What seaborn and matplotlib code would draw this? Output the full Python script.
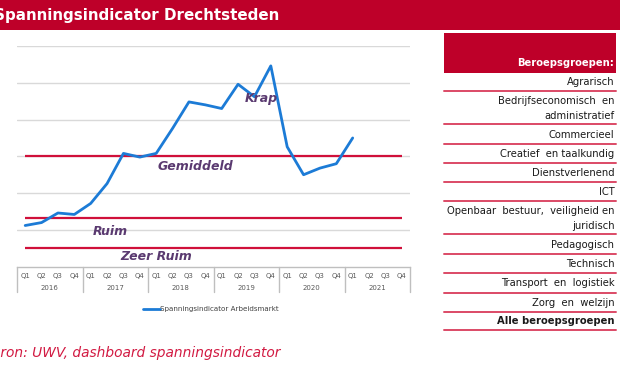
import matplotlib
matplotlib.use("Agg")
import matplotlib.pyplot as plt
import seaborn as sns
import pandas as pd
import numpy as np
from matplotlib.lines import Line2D
from matplotlib.patches import Rectangle

sns.set_theme(style="white")
plt.rcParams['font.family'] = ['DejaVu Sans']

# ---------------- data ----------------
years = ["2016", "2017", "2018", "2019", "2020", "2021"]
quarters = ["Q1", "Q2", "Q3", "Q4"]
spanning = [0.56, 0.60, 0.73, 0.71, 0.86, 1.13, 1.54, 1.49, 1.54, 1.88,
            2.24, 2.20, 2.15, 2.48, 2.31, 2.73, 1.63, 1.25, 1.34, 1.40, 1.75]
levels = [1.5, 0.667, 0.25]
level_names = ["Gemiddeld", "Ruim", "Zeer Ruim", "Krap"]
series_name = "Spanningsindicator Arbeidsmarkt"
title = "Spanningsindicator Drechtsteden"
source = "Bron: UWV, dashboard spanningsindicator"
panel_header = "Beroepsgroepen:"
groups = ["Agrarisch", "Bedrijfseconomisch  en\nadministratief", "Commercieel",
          "Creatief  en taalkundig", "Dienstverlenend", "ICT",
          "Openbaar  bestuur,  veiligheid en\njuridisch", "Pedagogisch", "Technisch",
          "Transport  en  logistiek", "Zorg  en  welzijn", "Alle beroepsgroepen"]

W, H = 620, 365
RED = "#BE0029"
def fx(x): return x / W
def fy(y): return 1 - y / H

fig = plt.figure(figsize=(W / 100, H / 100), dpi=100)
fig.patch.set_facecolor("white")

# title bar
fig.add_artist(Rectangle((0, fy(29.5)), 1, 29.5 / H, transform=fig.transFigure,
                         facecolor=RED, edgecolor="none", zorder=0))
fig.text(fx(-6), fy(15.5), title, color="white", fontsize=10.9, fontweight="bold",
         ha="left", va="center")

# ---------------- chart ----------------
ax = fig.add_axes([fx(17), fy(266.7), (410 - 17) / W, (266.7 - 46) / H])
n_q = len(years) * len(quarters)
df = pd.DataFrame({"idx": np.arange(len(spanning)), "value": spanning})
ax.set_xlim(-0.5, n_q - 0.5)
ax.set_ylim(0, 3.0)
ax.set_yticks(np.arange(0.5, 3.01, 0.5))
ax.yaxis.grid(True, color="#D9D9D9", lw=1.0)
ax.set_axisbelow(True)
ax.tick_params(axis="y", left=False, labelleft=False)
for s in ["top", "right", "left"]:
    ax.spines[s].set_visible(False)
ax.spines["bottom"].set_color("#BFBFBF")
ax.spines["bottom"].set_linewidth(1.0)

for lv in levels:
    ax.hlines(lv, 0, n_q - 1, color="#D0103A", lw=1.6, zorder=2)

sns.lineplot(data=df, x="idx", y="value", ax=ax, color="#1C7BD6", lw=2.0,
             zorder=3, label=series_name, legend=False)

lab_kw = dict(color="#5A3A70", fontsize=9, fontweight="bold", style="italic",
              ha="left", va="center", zorder=4)
ax.text(8.1, 1.36, level_names[0], **lab_kw)
ax.text(4.1, 0.485, level_names[1], **lab_kw)
ax.text(5.8, 0.136, level_names[2], **lab_kw)
ax.text(13.4, 2.28, level_names[3], **lab_kw)

# category axis (quarters + years)
ax.set_xticks([])
ax.set_xlabel("")
ax.set_ylabel("")
ph = 266.7 - 46
box_h = (292.3 - 266.7) / ph
for b in np.arange(-0.5, n_q, 4):
    ax.plot([b, b], [0, -box_h], transform=ax.get_xaxis_transform(),
            color="#BFBFBF", lw=1.0, clip_on=False)
q_y = -(275.7 - 266.7) / ph
yr_y = -(288 - 266.7) / ph
for k, yr in enumerate(years):
    for j, q in enumerate(quarters):
        ax.text(4 * k + j, q_y, q, transform=ax.get_xaxis_transform(),
                fontsize=5, color="#595959", ha="center", va="center")
    ax.text(4 * k + 1.5, yr_y, yr, transform=ax.get_xaxis_transform(),
            fontsize=5, color="#595959", ha="center", va="center")

# legend
handle = Line2D([0], [0], color="#1C7BD6", lw=2.0)
fig.legend([handle], [series_name], loc="center left",
           bbox_to_anchor=(fx(139), fy(309.3)), frameon=False, fontsize=5.1,
           handlelength=2.4, handletextpad=0.1, borderpad=0, labelcolor="#404040")

# source
fig.text(fx(-9), fy(353), source, color="#D21A42", fontsize=9.9, style="italic",
         ha="left", va="center")

# ---------------- right panel ----------------
x0, x1 = 444, 616
fig.add_artist(Rectangle((fx(x0), fy(72.7)), (x1 - x0) / W, (72.7 - 33.3) / H,
                         transform=fig.transFigure, facecolor=RED, edgecolor="none"))
fig.text(fx(614.5), fy(62.5), panel_header, color="white", fontsize=7.2, fontweight="bold",
         ha="right", va="center")
bounds = [72.7, 91, 124.3, 144.3, 163.3, 182.3, 201, 234.3, 254, 273.3, 292.7, 311.7, 330]
for k, g in enumerate(groups):
    top, bot = bounds[k], bounds[k + 1]
    fig.text(fx(614.5), fy((top + bot) / 2 + 0.5), g, color="#1A1A1A", fontsize=7.2,
             fontweight="bold" if k == len(groups) - 1 else "normal",
             ha="right", va="center", linespacing=1.6, multialignment="right")
for b in bounds[1:]:
    fig.add_artist(Line2D([fx(x0), fx(x1)], [fy(b), fy(b)], transform=fig.transFigure,
                          color="#DC4A66", lw=1.4))

fig.savefig("out.png", dpi=100)
